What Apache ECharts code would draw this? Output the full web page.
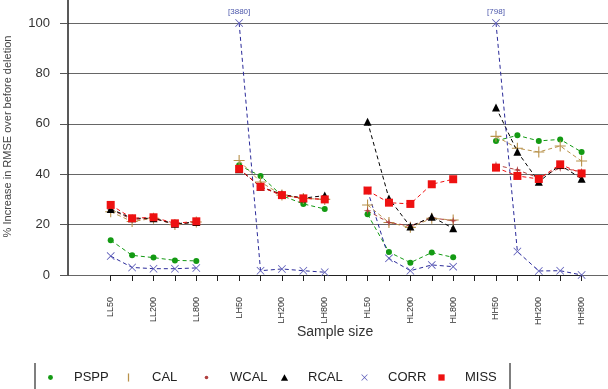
<!DOCTYPE html>
<html>
<head>
<meta charset="utf-8">
<script src="https://cdn.jsdelivr.net/npm/echarts/dist/echarts.min.js"></script>
<style>
  html, body { margin: 0; padding: 0; background: #fff; }
  #chart { width: 608px; height: 389px; }
</style>
</head>
<body>
<div id="chart"></div>
<script>
// sample-size categories, blank slots separate the four groups
const categories = ['LL50', 'LL100', 'LL200', 'LL400', 'LL800', ' ',
  'LH50', 'LH100', 'LH200', 'LH400', 'LH800', '  ',
  'HL50', 'HL100', 'HL200', 'HL400', 'HL800', '   ',
  'HH50', 'HH100', 'HH200', 'HH400', 'HH800'];
const yTicks = [0, 20, 40, 60, 80, 100];

const pspp = [13.8, 7.8, 6.9, 5.8, 5.6, null, 43.5, 39.3, 31.5, 28.2, 26.2, null,
  24.1, 9.1, 4.9, 8.9, 7.0, null, 53.2, 55.4, 53.2, 53.8, 48.8];
const cal = [25.1, 21.2, 22.5, 20.0, 21.0, null, 45.4, 36.9, 31.7, 30.4, 30.0, null,
  27.8, 20.8, 18.9, 22.5, 21.8, null, 55.0, 50.3, 48.8, 51.2, 45.2];
const wcal = [26.0, 22.0, 22.5, 20.0, 21.0, null, 42.0, 35.0, 31.5, 30.5, 30.0, null,
  25.5, 20.8, 19.5, 22.7, 21.5, null, 43.6, 41.7, 38.5, 42.5, 41.0];
const rcal = [26.2, 22.5, 22.5, 20.3, 21.0, null, 42.0, 35.0, 32.0, 30.5, 31.5, null,
  60.8, 30.4, 19.2, 23.1, 18.5, null, 66.5, 48.9, 37.0, 43.6, 38.2];
const corr = [7.5, 3.0, 2.5, 2.5, 2.8, null, 100, 1.7, 2.4, 1.7, 1.1, null,
  33.5, 6.6, 1.7, 4.0, 3.3, null, 100, 9.3, 1.6, 1.7, 0.0];
const miss = [27.8, 22.5, 22.9, 20.5, 21.3, null, 42.1, 35.0, 31.7, 30.4, 30.0, null,
  33.5, 28.7, 28.2, 36.0, 38.0, null, 42.6, 39.3, 38.1, 43.9, 40.3];
// CORR values capped at 100, real value written above the point
const capIndex = [6, 18];
const capText = ['[3880]', '[798]'];

const seriesNames = ['PSPP', 'CAL', 'WCAL', 'RCAL', 'CORR', 'MISS'];

const FONT = 'Liberation Sans, Arial, sans-serif';
const YMAX = 109.9;

const plusSym = 'path://M4.5,0h1v4.5h4.5v1h-4.5v4.5h-1v-4.5h-4.5v-1h4.5z';
const crossSym = 'path://M0,0.7L0.7,0L5,4.3L9.3,0L10,0.7L5.7,5L10,9.3L9.3,10L5,5.7L0.7,10L0,9.3L4.3,5Z';
const starSym = 'path://M5,0L6,4L10,5L6,6L5,10L4,6L0,5L4,4Z';

// legend icons, padded to a 10x10 box so they keep their own size
const pad = 'path://M0,0M10,10';
const legIcons = {
  PSPP: pad + 'M5,2.3A2.7,2.7,0,1,1,5,7.7A2.7,2.7,0,1,1,5,2.3Z',
  CAL: pad + 'M4.3,0.5h1.4v9h-1.4z',
  WCAL: pad + 'M5,3A2,2,0,1,1,5,7A2,2,0,1,1,5,3Z',
  RCAL: pad + 'M5,1.5L9,8.5H1Z',
  CORR: pad + 'M1.5,2L2,1.5L5,4.5L8,1.5L8.5,2L5.5,5L8.5,8L8,8.5L5,5.5L2,8.5L1.5,8L4.5,5Z',
  MISS: pad + 'M1.5,1.5h7v7h-7z'
};
// one legend box per entry, evenly spaced like the original key
const legendLeft = [46, 124, 202, 280, 360, 437];

function line(name, data, color, symbol, size, lineColor) {
  return {
    name: name,
    type: 'line',
    xAxisIndex: 1,
    yAxisIndex: 1,
    data: data,
    connectNulls: false,
    symbol: symbol,
    symbolSize: size,
    itemStyle: { color: color, borderWidth: 0 },
    lineStyle: { color: lineColor || color, width: 1, type: [4, 3] },
    animation: false
  };
}

const corrData = corr.map(function (v, i) {
  const k = capIndex.indexOf(i);
  if (k < 0) return v;
  return {
    value: v,
    label: { show: true, position: 'top', distance: 3, formatter: capText[k],
      color: '#4a55aa', fontSize: 8, fontFamily: FONT }
  };
});

const legends = seriesNames.map(function (n, i) {
  return {
    left: legendLeft[i],
    top: 371,
    padding: 0,
    itemHeight: 9,
    itemStyle: { borderWidth: 0 },
    textStyle: { fontFamily: FONT, fontSize: 13, color: '#222', padding: [0, 0, 0, 6] },
    data: [{ name: n, icon: legIcons[n] }]
  };
});

const chart = echarts.init(document.getElementById('chart'));
chart.setOption({
  backgroundColor: '#fff',
  animation: false,
  title: {
    text: 'Sample size',
    left: 292,
    top: 320,
    textStyle: { fontFamily: FONT, fontSize: 14, fontWeight: 'normal', color: '#333' }
  },
  grid: [
    { left: 68, right: 0, top: -2, bottom: 114, outerBoundsMode: 'none', containLabel: false },
    { left: 110.7, right: 26.4, top: -2, bottom: 114, outerBoundsMode: 'none', containLabel: false }
  ],
  xAxis: [
    { gridIndex: 0, type: 'value', min: 0, max: 1, show: false },
    {
      gridIndex: 1,
      type: 'category',
      data: categories,
      boundaryGap: false,
      offset: 11,
      axisLine: { show: true, lineStyle: { color: '#222', width: 1 } },
      axisTick: { show: true, interval: 0, length: 6, lineStyle: { color: '#222' } },
      axisLabel: { interval: 1, rotate: 90, margin: 11, fontSize: 9, color: '#333', fontFamily: FONT },
      splitLine: { show: false }
    }
  ],
  yAxis: [
    {
      gridIndex: 0,
      type: 'value',
      min: 0,
      max: YMAX,
      interval: 20,
      name: '% Increase in RMSE over before deletion',
      nameLocation: 'middle',
      nameGap: 55,
      nameTextStyle: { fontFamily: FONT, fontSize: 11, color: '#444' },
      axisLine: { show: true, lineStyle: { color: '#222', width: 1.5 } },
      axisTick: { show: true, length: 8, lineStyle: { color: '#555' } },
      axisLabel: {
        margin: 18, fontSize: 13, color: '#333', fontFamily: FONT,
        formatter: function (v) { return yTicks.indexOf(v) >= 0 ? String(v) : ''; }
      },
      splitLine: { show: true, showMaxLine: false, lineStyle: { color: '#666', width: 1 } }
    },
    { gridIndex: 1, type: 'value', min: 0, max: YMAX, show: false }
  ],
  legend: legends,
  graphic: [
    { type: 'line', shape: { x1: 35, y1: 363, x2: 35, y2: 392 }, style: { stroke: '#555', lineWidth: 1.5 } },
    { type: 'line', shape: { x1: 510, y1: 363, x2: 510, y2: 392 }, style: { stroke: '#555', lineWidth: 1.5 } }
  ],
  series: [
    line('PSPP', pspp, '#139a13', 'circle', 6),
    line('CAL', cal, '#b8914a', plusSym, 11),
    line('WCAL', wcal, '#b04040', starSym, 8),
    line('RCAL', rcal, '#000000', 'triangle', 8),
    line('CORR', corrData, '#5a5ab8', crossSym, 8, '#2a2a99'),
    line('MISS', miss, '#ee1111', 'rect', 8)
  ]
});
</script>
</body>
</html>
